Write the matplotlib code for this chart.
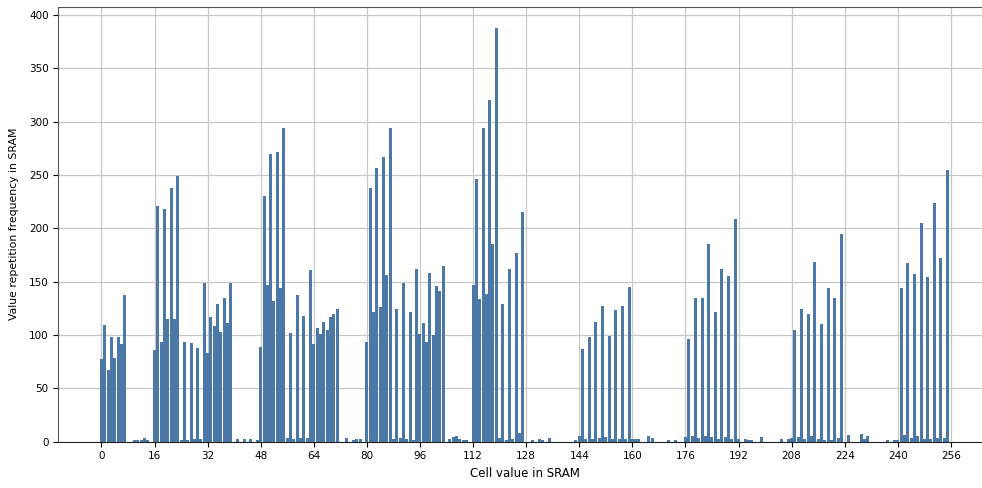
import numpy as np
import matplotlib
matplotlib.use("Agg")
import matplotlib.pyplot as plt

# repetition counts for each cell value, 32 values per list
cells_000 = [77, 109, 67, 98, 78, 98, 91, 137, 0, 0, 1, 1, 1, 3, 1, 0,
             86, 221, 93, 218, 115, 238, 115, 249, 1, 93, 1, 92, 2, 88, 2, 149]
cells_032 = [83, 117, 108, 129, 103, 135, 111, 149, 0, 2, 0, 2, 0, 2, 0, 1,
             89, 230, 147, 270, 132, 271, 144, 294, 3, 102, 2, 137, 3, 118, 3, 161]
cells_064 = [91, 106, 101, 112, 105, 117, 120, 124, 0, 0, 3, 0, 1, 2, 2, 0,
             93, 238, 121, 256, 126, 267, 156, 294, 2, 124, 3, 149, 2, 121, 1, 162]
cells_096 = [101, 111, 93, 158, 100, 146, 141, 165, 0, 2, 4, 5, 2, 1, 1, 0,
             147, 246, 134, 294, 138, 320, 185, 388, 3, 129, 1, 162, 2, 177, 8, 215]
cells_128 = [0, 0, 1, 0, 2, 1, 0, 3, 0, 0, 0, 0, 0, 0, 0, 1,
             5, 87, 2, 98, 2, 112, 3, 127, 4, 99, 2, 123, 2, 127, 2, 145]
cells_160 = [2, 2, 2, 0, 0, 5, 3, 0, 0, 0, 0, 1, 0, 1, 0, 0,
             4, 96, 5, 135, 3, 135, 5, 185, 4, 121, 2, 162, 4, 155, 2, 209]
cells_192 = [2, 0, 2, 1, 1, 0, 0, 4, 0, 0, 0, 0, 0, 2, 0, 2,
             3, 105, 4, 124, 2, 120, 5, 168, 2, 110, 1, 144, 1, 135, 3, 195]
cells_224 = [0, 6, 0, 0, 0, 7, 2, 5, 0, 0, 0, 0, 0, 1, 0, 1,
             1, 144, 6, 167, 3, 157, 5, 205, 2, 154, 2, 224, 3, 172, 3, 255]

x_ticks = list(range(0, 257, 16))

counts = np.array(cells_000 + cells_032 + cells_064 + cells_096 +
                  cells_128 + cells_160 + cells_192 + cells_224)
cell_values = np.arange(len(counts))

plt.rcParams.update({
    "font.family": "DejaVu Sans",
    "xtick.labelsize": 7.5,
    "ytick.labelsize": 7.5,
})

fig = plt.figure(figsize=(9.82, 4.88), dpi=100)
ax = fig.add_axes([58.3 / 982, 46.5 / 488, 933.4 / 982, 434.5 / 488])

ax.bar(cell_values, counts, width=0.9, color="#4c78a8")
ax.set_xticks(x_ticks)
ax.set_xlim(-13.0, 268.3)
ax.set_axisbelow(True)
ax.grid(True, color="#c8c8c8", linewidth=0.9)
ax.set_xlabel("Cell value in SRAM", fontsize=8.5, labelpad=4)
ax.set_ylabel("Value repetition frequency in SRAM", fontsize=7.8, labelpad=7)

for side in ["left", "top"]:
    ax.spines[side].set_color("#555555")
ax.spines["bottom"].set_color("#222222")

fig.savefig("out.png", dpi=100)
